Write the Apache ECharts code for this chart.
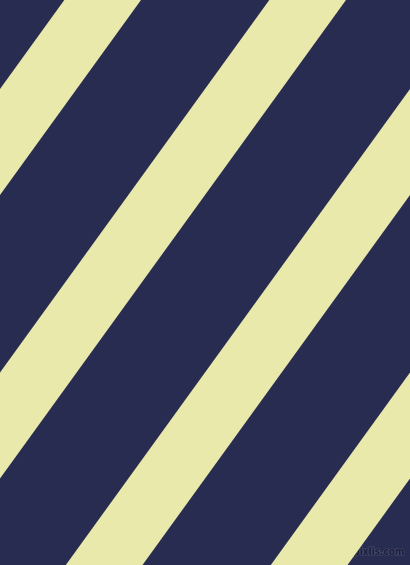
<!DOCTYPE html>
<html>
<head>
<meta charset="utf-8">
<script src="https://cdn.jsdelivr.net/npm/echarts@6/dist/echarts.min.js"></script>
<style>
html,body{margin:0;padding:0;background:#292C51;}
#c{width:410px;height:565px;}
</style>
</head>
<body>
<div id="c"></div>
<script>
// Stripe data: x position (in px units of the axis) where each stripe's left edge meets the top
const stripeLeftAtTop = [64.3, 269.3, 474.3, 679.3];
const stripeWidth = [76.7];
const runPerRise = [0.723];
const xRange = [0, 410];
const yRange = [0, 565];

const chart = echarts.init(document.getElementById('c'), null, {renderer: 'canvas'});
const H = yRange[1];
chart.setOption({
  animation: false,
  backgroundColor: '#292C51',
  grid: {left: 0, right: 0, top: 0, bottom: 0},
  xAxis: {type: 'value', min: xRange[0], max: xRange[1], show: false},
  yAxis: {type: 'value', min: yRange[0], max: yRange[1], inverse: true, show: false},
  series: [{
    type: 'custom',
    clip: true,
    data: stripeLeftAtTop.map(v => [v, 0]),
    renderItem: function (params, api) {
      const x0 = api.value(0);
      const w = stripeWidth[0];
      const r = runPerRise[0];
      const pts = [[x0, 0], [x0 + w, 0], [x0 + w - r * H, H], [x0 - r * H, H]].map(p => api.coord(p));
      return {type: 'polygon', shape: {points: pts}, style: {fill: '#E8E9AB'}};
    }
  }],
  graphic: [{
    type: 'text',
    right: 5,
    bottom: 7,
    style: {
      text: 'pixlis.com',
      font: 'bold 10px "DejaVu Sans Condensed", "DejaVu Sans"',
      fill: '#1C1E36',
      stroke: '#4A4E74',
      lineWidth: 1.2
    }
  }]
});
</script>
</body>
</html>
